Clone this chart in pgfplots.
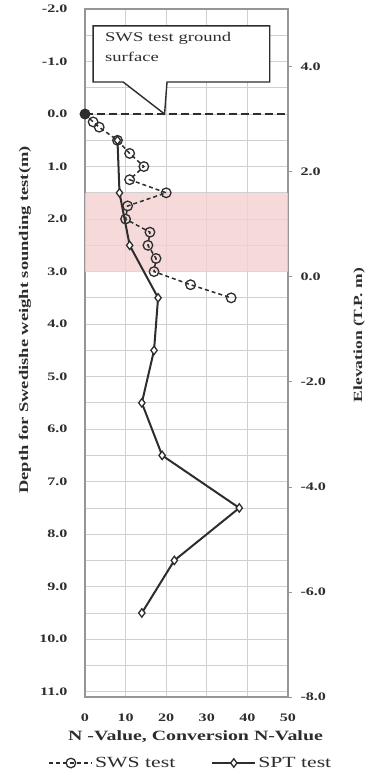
\documentclass[border=0pt]{standalone}
\usepackage{fontspec}
\setmainfont{Liberation Serif}[FakeStretch=1.4]
\usepackage{pgfplots}
\pgfplotsset{compat=1.18}
\definecolor{bandpink}{RGB}{244,208,208}
\definecolor{gridgray}{RGB}{208,208,208}
\definecolor{framegray}{RGB}{150,150,150}
\definecolor{ink}{RGB}{45,45,45}
\begin{document}
\begin{tikzpicture}
\path[use as bounding box] (-85pt,-76pt) rectangle (284pt,697pt);
\begin{axis}[
  name=main, at={(0,0)}, anchor=south west,
  scale only axis, width=203pt, height=688pt,
  xmin=0, xmax=50, ymin=-2, ymax=11.1, y dir=reverse,
  clip=false,
  xtick={0,10,...,50}, ytick={-2,...,11},
  minor ytick={-1.5,-0.5,...,10.5},
  grid=both,
  major grid style={gridgray, line width=0.8pt},
  minor grid style={gridgray, line width=0.8pt},
  axis line style={framegray, line width=1.3pt},
  tick style={draw=none},
  /pgf/number format/assume math mode=true,
  ticklabel style={font=\bfseries\fontsize{11.5}{11.5}\selectfont, text=ink},
  y tick label style={/pgf/number format/fixed, /pgf/number format/fixed zerofill, /pgf/number format/precision=1, xshift=-14pt},
  x tick label style={yshift=-13pt},
  xlabel={N -Value, Conversion N-Value},
  xlabel style={at={(axis description cs:0.5,0)}, anchor=center, yshift=-40pt, xshift=9pt, font=\bfseries\fontsize{14.2}{15}\selectfont, text=ink},
  ylabel={Depth for Swedishe weight sounding test(m)},
  ylabel style={at={(axis description cs:-0.296,0.548)}, anchor=center, font=\bfseries\fontsize{13.2}{14}\selectfont, text=ink},
  legend style={at={(axis description cs:0.522,0)}, anchor=center, yshift=-66pt, draw=none, fill=none, inner sep=0pt,
    font=\fontsize{15.5}{16}\selectfont, text=ink,
    /tikz/every even column/.append style={column sep=34pt}},
  legend columns=2,
  legend image code/.code={\draw[mark repeat=2, mark phase=2, #1] plot coordinates {(0pt,0pt) (21.5pt,0pt) (43pt,0pt)};},
]
% weak layer band
\addplot[draw=none, fill=bandpink, fill opacity=0.8, forget plot] coordinates {(0,1.5) (50,1.5) (50,3.0) (0,3.0)} -- cycle;
% callout
\draw[ink, line width=1.4pt, fill=white] (axis cs:2,-1.68) -- (axis cs:45.5,-1.68) -- (axis cs:45.5,-0.61) -- (axis cs:20.2,-0.61) -- (axis cs:19.6,0) -- (axis cs:9.4,-0.61) -- (axis cs:2,-0.61) -- cycle;
\node[anchor=north west, align=left, inner sep=0pt, text=ink, font=\fontsize{13.3}{20}\selectfont] at (axis cs:4.9,-1.57) {SWS test ground\\surface};
% ground surface line
\addplot[ink, line width=2.6pt, dash pattern=on 8pt off 4pt, forget plot] coordinates {(0,0) (50,0)};
% SWS test
\addplot[ink, line width=1.5pt, dash pattern=on 4pt off 3pt, mark=o, mark size=4.8pt, mark options={solid, fill=white, line width=1.3pt}]
coordinates {(0,0) (2,0.15) (3.5,0.25) (8,0.5) (11,0.75) (14.5,1.0) (11,1.25) (20,1.5) (10.5,1.75) (10,2.0) (16,2.25) (15.5,2.5) (17.5,2.75) (17,3.0) (26,3.25) (36,3.5)};
\addlegendentry{SWS test}
% SPT test
\addplot[ink, line width=2pt, mark=diamond*, mark size=4.2pt, mark options={solid, fill=white, line width=1.3pt}]
coordinates {(8,0.5) (8.5,1.5) (11,2.5) (18,3.5) (17,4.5) (14,5.5) (19,6.5) (38,7.5) (22,8.5) (14,9.5)};
\addlegendentry{SPT test}
% filled start point at the ground surface
\addplot[only marks, mark=*, mark size=4.8pt, color=ink, forget plot] coordinates {(0,0)};
\end{axis}
\begin{axis}[
  at={(0,0)}, anchor=south west,
  scale only axis, width=203pt, height=688pt,
  xmin=0, xmax=50, ymin=-8, ymax=5.1,
  axis x line=none, axis y line*=right,
  axis line style={draw=none},
  ytick={-8,-6,...,4},
  tick style={framegray, line width=0.8pt},
  major tick length=4pt, tick align=outside,
  /pgf/number format/assume math mode=true,
  ticklabel style={font=\bfseries\fontsize{11.5}{11.5}\selectfont, text=ink},
  y tick label style={/pgf/number format/fixed, /pgf/number format/fixed zerofill, /pgf/number format/precision=1, xshift=5pt},
  ylabel={Elevation (T.P. m)},
  ylabel style={at={(axis description cs:1.35,0.526)}, anchor=center, font=\bfseries\fontsize{12.5}{13}\selectfont, text=ink},
]
\end{axis}
\end{tikzpicture}
\end{document}
